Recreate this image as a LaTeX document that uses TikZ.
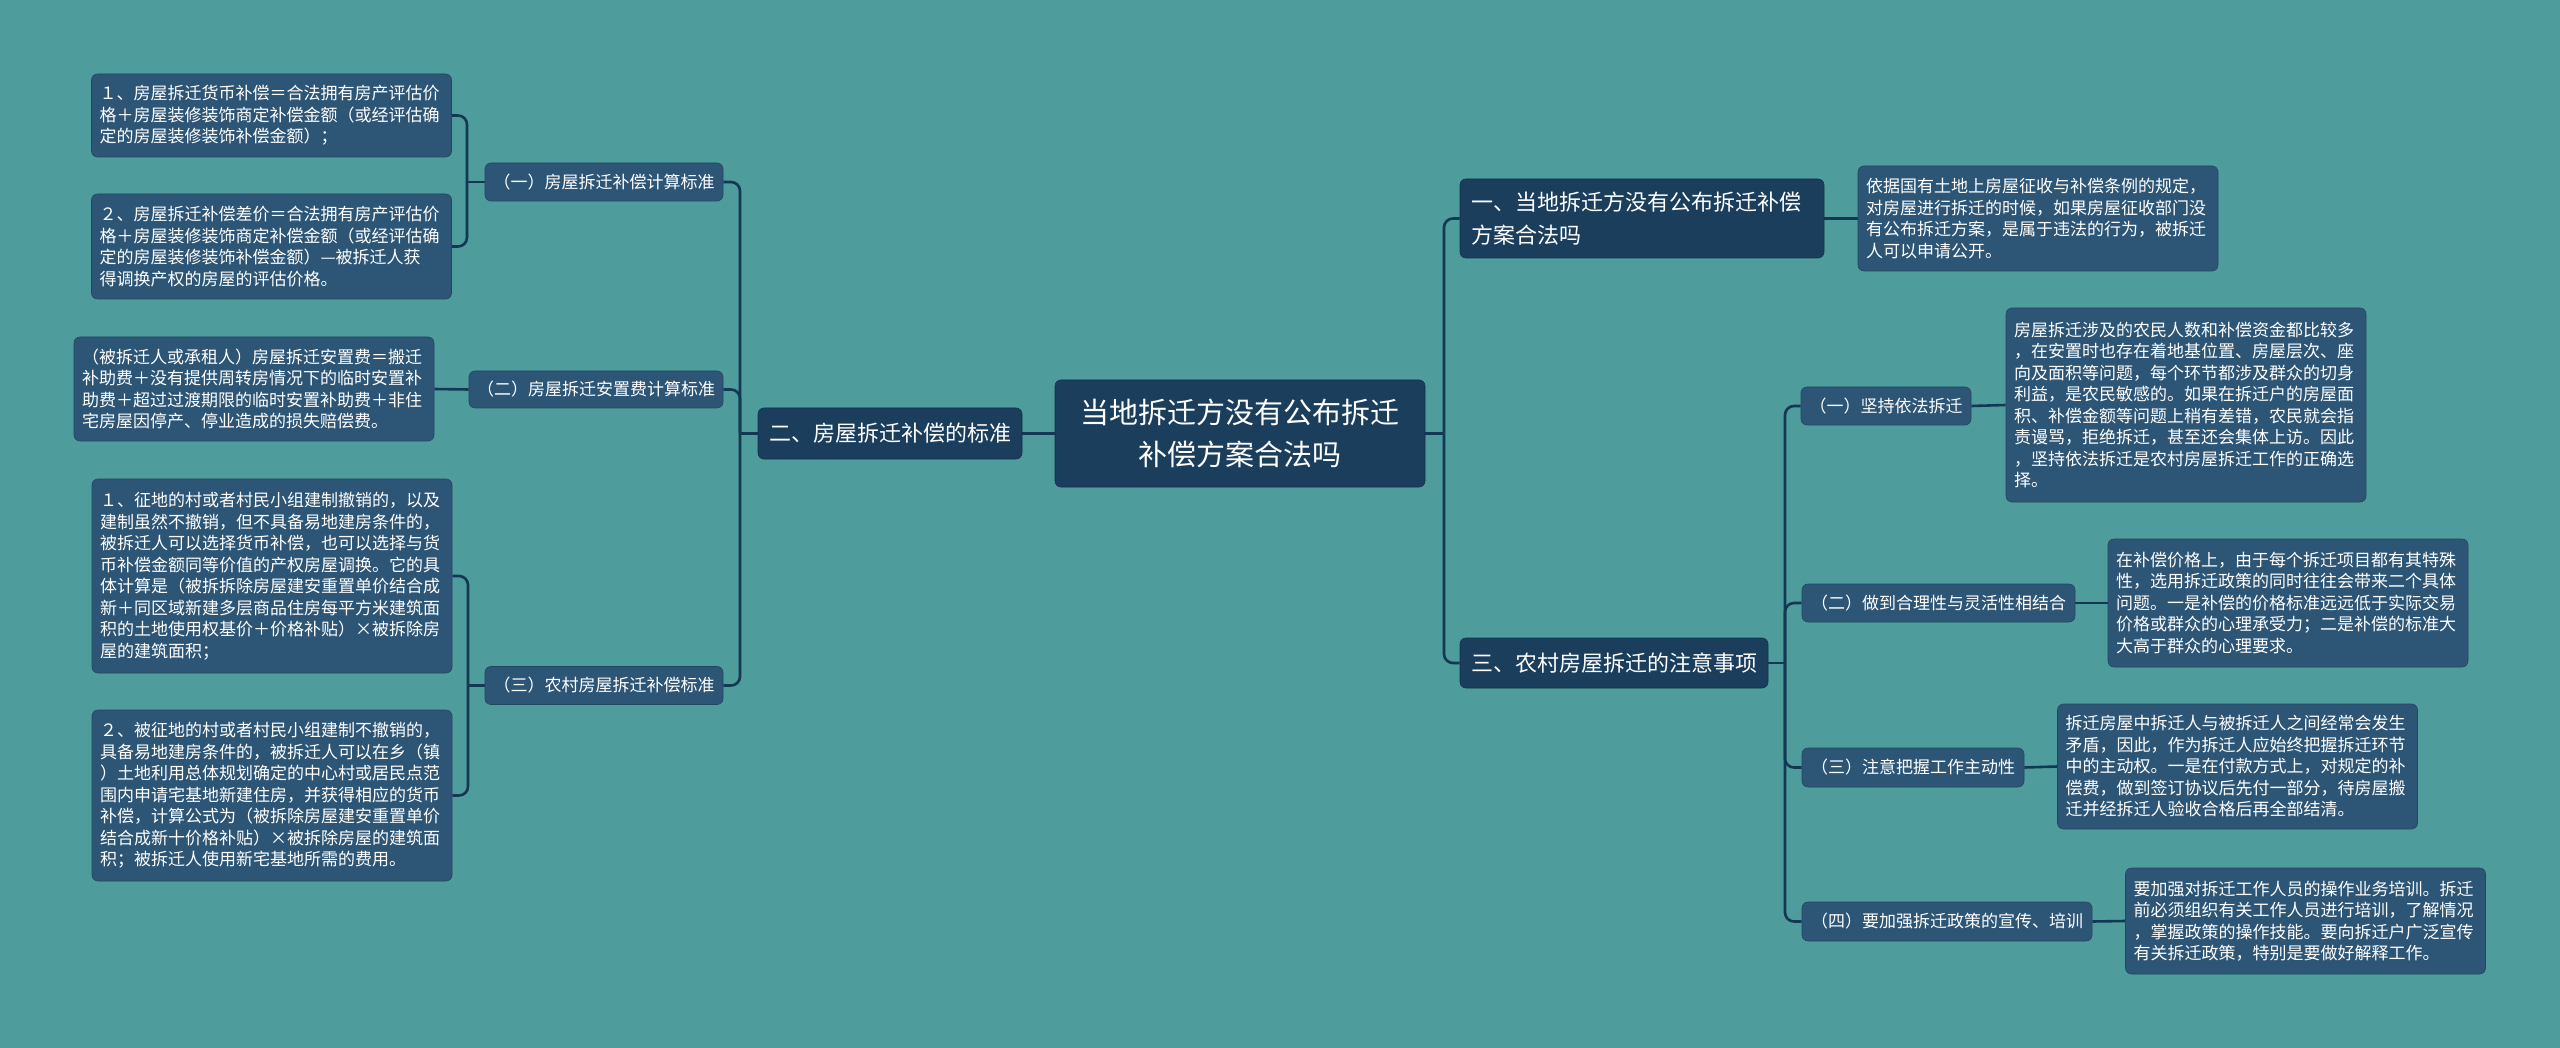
\documentclass[tikz,border=0pt]{standalone}
\usepackage{fontspec}
\setmainfont{Noto Sans CJK SC}
\usetikzlibrary{backgrounds}
\definecolor{bgteal}{RGB}{78,156,156}
\definecolor{darkbox}{RGB}{26,62,92}
\definecolor{midbox}{RGB}{45,86,118}
\definecolor{linecol}{RGB}{20,56,84}
\tikzset{
  base/.style={rounded corners=6pt, text=white, inner sep=0pt, anchor=center},
  rootbox/.style={base, fill=darkbox, draw=darkbox!80!black, line width=0.6pt, align=center,
     font=\fontsize{29}{42}\selectfont},
  lvone/.style={base, fill=darkbox, draw=darkbox!80!black, line width=0.6pt,
     font=\fontsize{22}{33}\selectfont},
  lvtwo/.style={base, fill=midbox, draw=midbox!80!black, line width=0.6pt,
     font=\fontsize{17}{21}\selectfont},
  leafbox/.style={base, fill=midbox, draw=midbox!80!black, line width=0.6pt,
     align=left, inner xsep=8pt, text width=344pt,
     font=\fontsize{17}{21.5}\selectfont},
  conn/.style={draw=linecol, line width=2.6pt, rounded corners=9pt},
}
\begin{document}
\begin{tikzpicture}[x=1pt,y=-1pt]
\useasboundingbox (0,0) rectangle (2560,1048);
% root and level one
\node[rootbox, minimum width=370pt, minimum height=107pt] (root) at (1240,433.5)
  {当地拆迁方没有公布拆迁\\补偿方案合法吗};
\node[lvone, minimum width=264pt, minimum height=51pt] (n2) at (890,433.5) {二、房屋拆迁补偿的标准};
\node[lvone, minimum width=364pt, minimum height=79pt, align=left, inner xsep=11pt, text width=342pt] (n1) at (1642,218.5)
  {一、当地拆迁方没有公布拆迁补偿\\方案合法吗};
\node[lvone, minimum width=308pt, minimum height=50pt] (n3) at (1614,663) {三、农村房屋拆迁的注意事项};
% level two left
\node[lvtwo, minimum width=238pt, minimum height=38pt] (a1) at (604,182) {（一）房屋拆迁补偿计算标准};
\node[lvtwo, minimum width=254pt, minimum height=37pt] (a2) at (596,389.5) {（二）房屋拆迁安置费计算标准};
\node[lvtwo, minimum width=238pt, minimum height=38pt] (a3) at (604,685.5) {（三）农村房屋拆迁补偿标准};
% level two right
\node[lvtwo, minimum width=170pt, minimum height=38pt] (b1) at (1886,406) {（一）坚持依法拆迁};
\node[lvtwo, minimum width=273pt, minimum height=38pt] (b2) at (1938.5,603) {（二）做到合理性与灵活性相结合};
\node[lvtwo, minimum width=222pt, minimum height=39pt] (b3) at (1913,767.5) {（三）注意把握工作主动性};
\node[lvtwo, minimum width=290pt, minimum height=39pt] (b4) at (1947,921.5) {（四）要加强拆迁政策的宣传、培训};
% left leaves
\node[leafbox, minimum height=83pt] (L1) at (271.5,115.5)
  {１、房屋拆迁货币补偿＝合法拥有房产评估价\\格＋房屋装修装饰商定补偿金额（或经评估确\\定的房屋装修装饰补偿金额）；};
\node[leafbox, minimum height=105pt] (L2) at (271.5,246.5)
  {２、房屋拆迁补偿差价＝合法拥有房产评估价\\格＋房屋装修装饰商定补偿金额（或经评估确\\定的房屋装修装饰补偿金额）—被拆迁人获\\得调换产权的房屋的评估价格。};
\node[leafbox, minimum height=104pt] (L3) at (254,389)
  {（被拆迁人或承租人）房屋拆迁安置费＝搬迁\\补助费＋没有提供周转房情况下的临时安置补\\助费＋超过过渡期限的临时安置补助费＋非住\\宅房屋因停产、停业造成的损失赔偿费。};
\node[leafbox, minimum height=194pt] (L4) at (272,576)
  {１、征地的村或者村民小组建制撤销的，以及\\建制虽然不撤销，但不具备易地建房条件的，\\被拆迁人可以选择货币补偿，也可以选择与货\\币补偿金额同等价值的产权房屋调换。它的具\\体计算是（被拆拆除房屋建安重置单价结合成\\新＋同区域新建多层商品住房每平方米建筑面\\积的土地使用权基价＋价格补贴）×被拆除房\\屋的建筑面积；};
\node[leafbox, minimum height=171pt] (L5) at (272,795.5)
  {２、被征地的村或者村民小组建制不撤销的，\\具备易地建房条件的，被拆迁人可以在乡（镇\\）土地利用总体规划确定的中心村或居民点范\\围内申请宅基地新建住房，并获得相应的货币\\补偿，计算公式为（被拆除房屋建安重置单价\\结合成新十价格补贴）×被拆除房屋的建筑面\\积；被拆迁人使用新宅基地所需的费用。};
% right leaves
\node[leafbox, minimum height=105pt] (R1) at (2038,218.5)
  {依据国有土地上房屋征收与补偿条例的规定，\\对房屋进行拆迁的时候，如果房屋征收部门没\\有公布拆迁方案，是属于违法的行为，被拆迁\\人可以申请公开。};
\node[leafbox, minimum height=194pt] (R2) at (2186,405)
  {房屋拆迁涉及的农民人数和补偿资金都比较多\\，在安置时也存在着地基位置、房屋层次、座\\向及面积等问题，每个环节都涉及群众的切身\\利益，是农民敏感的。如果在拆迁户的房屋面\\积、补偿金额等问题上稍有差错，农民就会指\\责谩骂，拒绝拆迁，甚至还会集体上访。因此\\，坚持依法拆迁是农村房屋拆迁工作的正确选\\择。};
\node[leafbox, minimum height=128pt] (R3) at (2288,603)
  {在补偿价格上，由于每个拆迁项目都有其特殊\\性，选用拆迁政策的同时往往会带来二个具体\\问题。一是补偿的价格标准远远低于实际交易\\价格或群众的心理承受力；二是补偿的标准大\\大高于群众的心理要求。};
\node[leafbox, minimum height=125pt] (R4) at (2237.5,766.5)
  {拆迁房屋中拆迁人与被拆迁人之间经常会发生\\矛盾，因此，作为拆迁人应始终把握拆迁环节\\中的主动权。一是在付款方式上，对规定的补\\偿费，做到签订协议后先付一部分，待房屋搬\\迁并经拆迁人验收合格后再全部结清。};
\node[leafbox, minimum height=106pt] (R5) at (2305.5,921)
  {要加强对拆迁工作人员的操作业务培训。拆迁\\前必须组织有关工作人员进行培训，了解情况\\，掌握政策的操作技能。要向拆迁户广泛宣传\\有关拆迁政策，特别是要做好解释工作。};
% junctions
\coordinate (jA) at (740,433.5);
\coordinate (jB) at (467,182);
\coordinate (jC) at (468,685.5);
\coordinate (jD) at (1444,433.5);
\coordinate (jE) at (1785,663);
\begin{pgfonlayer}{background}
\fill[bgteal] (0,0) rectangle (2560,1048);
% left tree
\draw[conn] (root.west) -- (n2.east);
\draw[conn] (n2.west) -- (jA);
\draw[conn] (jA) |- (a1.east);
\draw[conn] (jA) |- (a2.east);
\draw[conn] (jA) |- (a3.east);
\draw[conn] (a1.west) -- (jB);
\draw[conn] (jB) |- (L1.east);
\draw[conn] (jB) |- (L2.east);
\draw[conn] (a2.west) -- (L3.east);
\draw[conn] (a3.west) -- (jC);
\draw[conn] (jC) |- (L4.east);
\draw[conn] (jC) |- (L5.east);
% right tree
\draw[conn] (root.east) -- (jD);
\draw[conn] (jD) |- (n1.west);
\draw[conn] (jD) |- (n3.west);
\draw[conn] (n1.east) -- (R1.west);
\draw[conn] (n3.east) -- (jE);
\draw[conn] (jE) |- (b1.west);
\draw[conn] (jE) |- (b2.west);
\draw[conn] (jE) |- (b3.west);
\draw[conn] (jE) |- (b4.west);
\draw[conn] (b1.east) -- (R2.west);
\draw[conn] (b2.east) -- (R3.west);
\draw[conn] (b3.east) -- (R4.west);
\draw[conn] (b4.east) -- (R5.west);
\end{pgfonlayer}
\end{tikzpicture}
\end{document}
